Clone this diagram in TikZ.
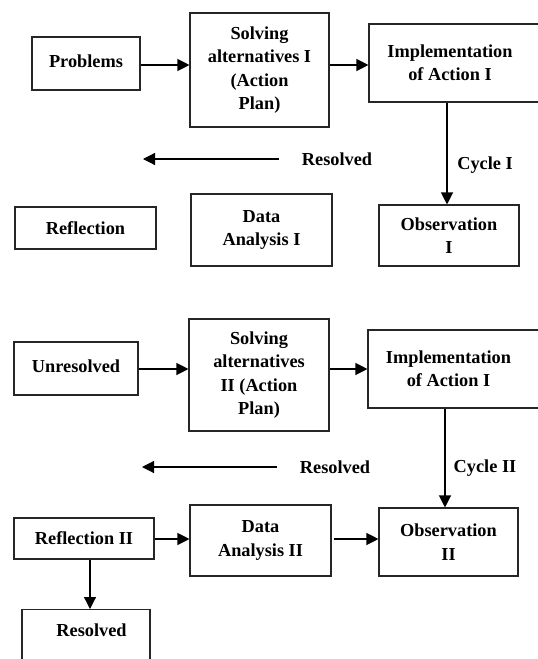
\documentclass[tikz,border=0pt]{standalone}
\usepackage{fontspec}
\setmainfont{Liberation Serif}
\usetikzlibrary{arrows.meta}
\begin{document}
\begin{tikzpicture}[x=1pt,y=-1pt,
  box/.style={draw=black!85, line width=1.1pt, rectangle, inner sep=0pt, align=center, font=\fontsize{18.3}{23.4}\selectfont\bfseries},
  lbl/.style={inner sep=0pt, align=center, font=\fontsize{18.3}{23.4}\selectfont\bfseries},
  arr/.style={line width=1.2pt, -{Triangle[length=12pt,width=12pt]}}]
\useasboundingbox (0,0) rectangle (538,659);
\clip (0,0) rectangle (538,659);
% ---------- Cycle I ----------
\node[box, minimum width=108pt, minimum height=53pt] (prob) at (86,63.5) {\raisebox{5pt}{Problems}};
\node[box, minimum width=139pt, minimum height=114pt] (sol1) at (259.5,70) {Solving\\alternatives I\\(Action\\Plan)};
\node[box, minimum width=176pt, minimum height=78pt,
      label={[lbl,xshift=-7pt]center:{Implementation\\of Action I}}] (impl1) at (457,63) {};
\node[box, minimum width=141pt, minimum height=42pt] (refl1) at (85.5,228) {Reflection};
\node[box, minimum width=141pt, minimum height=72pt] (data1) at (261.5,230) {Data\\Analysis I};
\node[box, minimum width=140pt, minimum height=61pt] (obs1) at (449,235.5) {Observation\\I};
\node[lbl] (res1) at (337,159) {Resolved};
\node[lbl] (cyc1) at (485,165) {Cycle I};
\coordinate (r1s) at (279,159);
\coordinate (r1e) at (143,159);
\draw[arr] (prob.east |- 0,65) -- (sol1.west |- 0,65);
\draw[arr] (sol1.east |- 0,65) -- (impl1.west |- 0,65);
\draw[arr] (r1s) -- (r1e);
\draw[arr] (impl1.south -| 447,0) -- (obs1.north -| 447,0);
% ---------- Cycle II ----------
\node[box, minimum width=124pt, minimum height=53pt] (unres) at (76,368.5) {\raisebox{5pt}{Unresolved}};
\node[box, minimum width=140pt, minimum height=112pt] (sol2) at (259,375) {Solving\\alternatives\\II (Action\\Plan)};
\node[box, minimum width=177pt, minimum height=78pt,
      label={[lbl,xshift=-8pt]center:{Implementation\\of Action I}}] (impl2) at (456.5,369) {};
\node[box, minimum width=140pt, minimum height=41pt] (refl2) at (84,538.5) {Reflection II};
\node[box, minimum width=141pt, minimum height=71pt] (data2) at (260.5,540.5) {Data\\Analysis II};
\node[box, minimum width=139pt, minimum height=68pt] (obs2) at (448.5,542) {Observation\\II};
\node[lbl] (res2) at (335,467) {Resolved};
\node[lbl] (cyc2) at (485,468) {Cycle II};
\coordinate (r2s) at (277,467);
\coordinate (r2e) at (142,467);
\node[box, minimum width=128pt, minimum height=90pt, anchor=north] (resb) at (86,609) {};
\node[lbl] (resbt) at (91.5,630) {Resolved};
\draw[arr] (unres.east |- 0,369) -- (sol2.west |- 0,369);
\draw[arr] (sol2.east |- 0,369) -- (impl2.west |- 0,369);
\draw[arr] (r2s) -- (r2e);
\draw[arr] (impl2.south -| 445,0) -- (obs2.north -| 445,0);
\draw[arr] (refl2.east |- 0,539) -- (data2.west |- 0,539);
\draw[arr, shorten <=2pt] (data2.east |- 0,539) -- (obs2.west |- 0,539);
\draw[arr] (refl2.south -| 90,0) -- (resb.north -| 90,0);
\end{tikzpicture}
\end{document}
